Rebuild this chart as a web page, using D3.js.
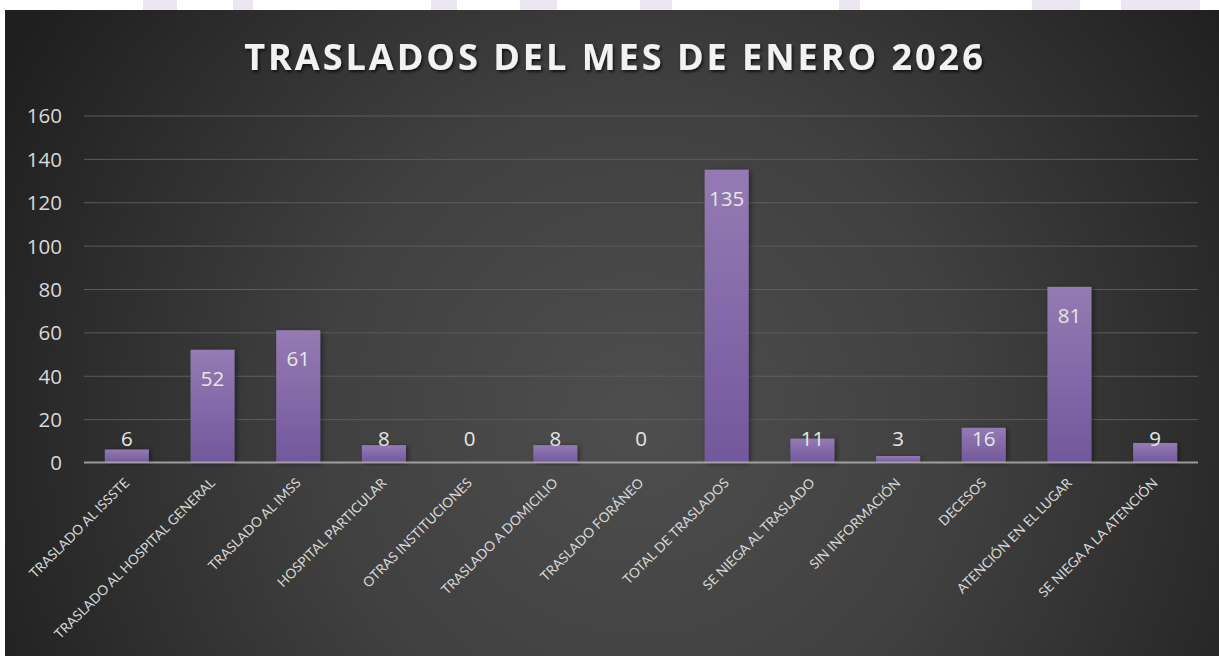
<!DOCTYPE html>
<html>
<head>
<meta charset="utf-8">
<script src="https://cdn.jsdelivr.net/npm/d3@7"></script>
<style>
  html, body { margin: 0; padding: 0; background: #ffffff; }
  svg { display: block; }
</style>
</head>
<body>
<svg id="chart" width="1219" height="656"></svg>
<script>
const categories = [
  "TRASLADO AL ISSSTE",
  "TRASLADO AL HOSPITAL GENERAL",
  "TRASLADO AL IMSS",
  "HOSPITAL PARTICULAR",
  "OTRAS INSTITUCIONES",
  "TRASLADO A DOMICILIO",
  "TRASLADO FORÁNEO",
  "TOTAL DE TRASLADOS",
  "SE NIEGA AL TRASLADO",
  "SIN INFORMACIÓN",
  "DECESOS",
  "ATENCIÓN EN EL LUGAR",
  "SE NIEGA A LA ATENCIÓN"
];
const values = [6, 52, 61, 8, 0, 8, 0, 135, 11, 3, 16, 81, 9];
const yTicks = [0, 20, 40, 60, 80, 100, 120, 140, 160];
const titleText = "TRASLADOS DEL MES DE ENERO 2026";

(function () {
const W = 1219, H = 656;
const svg = d3.select("#chart");
const defs = svg.append("defs");

const bg = defs.append("radialGradient").attr("id", "bgGrad")
  .attr("gradientUnits", "userSpaceOnUse")
  .attr("cx", 640).attr("cy", 420).attr("r", 720);
bg.append("stop").attr("offset", "0%").attr("stop-color", "#4e4e4e");
bg.append("stop").attr("offset", "45%").attr("stop-color", "#404040");
bg.append("stop").attr("offset", "100%").attr("stop-color", "#1f1f1f");

const barGrad = defs.append("linearGradient").attr("id", "barGrad")
  .attr("x1", 0).attr("y1", 0).attr("x2", 0).attr("y2", 1);
barGrad.append("stop").attr("offset", "0%").attr("stop-color", "#947bb3");
barGrad.append("stop").attr("offset", "100%").attr("stop-color", "#72589c");

const shadow = defs.append("filter").attr("id", "barShadow")
  .attr("x", "-20%").attr("y", "-20%").attr("width", "150%").attr("height", "140%");
shadow.append("feDropShadow").attr("dx", 2).attr("dy", 1).attr("stdDeviation", 2.5)
  .attr("flood-color", "#000").attr("flood-opacity", 0.45);

const tshadow = defs.append("filter").attr("id", "titleShadow")
  .attr("x", "-10%").attr("y", "-30%").attr("width", "120%").attr("height", "160%");
tshadow.append("feDropShadow").attr("dx", 1.5).attr("dy", 2).attr("stdDeviation", 1.5)
  .attr("flood-color", "#000").attr("flood-opacity", 0.7);

const wm = svg.append("g").attr("fill", "#ece6f2");
[[143, 34], [233, 20], [431, 26], [520, 37], [640, 32], [839, 21], [1032, 48], [1121, 79]].forEach(d => {
  wm.append("rect").attr("x", d[0]).attr("y", 0).attr("width", d[1]).attr("height", 10);
});

svg.append("rect").attr("x", 5).attr("y", 10).attr("width", W - 5).attr("height", H - 10)
  .attr("fill", "url(#bgGrad)");

const plotLeft = 84, plotRight = 1198, plotTop = 115.5, plotBottom = 462.5;

const x = d3.scaleBand().domain(categories).range([plotLeft, plotRight])
  .paddingInner(0.486).paddingOuter(0.243);
const y = d3.scaleLinear().domain([0, 160]).range([plotBottom, plotTop]);

svg.append("text")
  .attr("x", 615).attr("y", 70)
  .attr("text-anchor", "middle")
  .attr("font-family", "'Open Sans', sans-serif")
  .attr("font-weight", 700)
  .attr("font-size", 36)
  .attr("letter-spacing", 3)
  .attr("fill", "#f2f2f2")
  .attr("filter", "url(#titleShadow)")
  .text(titleText);

const yAxis = d3.axisLeft(y).tickValues(yTicks).tickSize(-(plotRight - plotLeft)).tickPadding(22);
const gy = svg.append("g").attr("transform", `translate(${plotLeft},0)`).call(yAxis);
gy.select(".domain").remove();
gy.selectAll(".tick line").attr("stroke", "#5c5c5c").attr("stroke-width", 1)
  .filter(d => d === 0).remove();
gy.selectAll(".tick text")
  .attr("fill", "#d9d9d9")
  .attr("font-family", "'Open Sans', sans-serif")
  .attr("font-size", 20.5)
  .attr("dy", "0.36em");

svg.append("g").selectAll("rect").data(values).join("rect")
  .attr("x", (d, i) => x(categories[i]))
  .attr("y", d => y(d))
  .attr("width", x.bandwidth())
  .attr("height", d => y(0) - y(d))
  .attr("fill", "url(#barGrad)")
  .attr("filter", "url(#barShadow)");

svg.append("line")
  .attr("x1", plotLeft).attr("x2", plotRight)
  .attr("y1", y(0)).attr("y2", y(0))
  .attr("stroke", "#b5b5b5").attr("stroke-opacity", 0.8).attr("stroke-width", 2.2);

svg.append("g").selectAll("text").data(values).join("text")
  .attr("x", (d, i) => x(categories[i]) + x.bandwidth() / 2)
  .attr("y", d => Math.min(y(d) + 36, 446))
  .attr("text-anchor", "middle")
  .attr("font-family", "'Open Sans', sans-serif")
  .attr("font-size", 20.5)
  .attr("fill", "#e6e6e6")
  .text(d => d);

const xAxis = d3.axisBottom(x).tickSize(0).tickPadding(0);
const gx = svg.append("g").attr("transform", `translate(0,${plotBottom})`).call(xAxis);
gx.select(".domain").remove();
gx.selectAll(".tick text")
  .attr("fill", "#d9d9d9")
  .attr("font-family", "Lato, sans-serif")
  .attr("font-size", 13.6)
  .attr("text-anchor", "end")
  .attr("dy", "0.35em")
  .attr("transform", "translate(0,18) rotate(-45)");
})();
</script>
</body>
</html>
